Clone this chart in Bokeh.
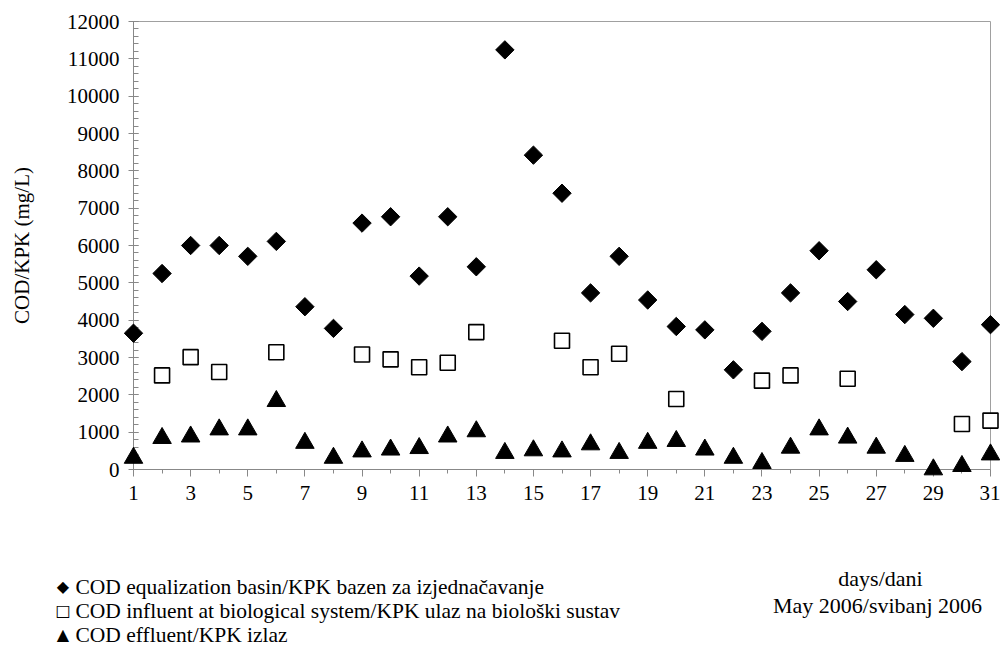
import numpy as np
from bokeh.plotting import figure
from bokeh.models import FixedTicker, Range1d
from bokeh.core.properties import value
from bokeh.embed import file_html
from bokeh.resources import INLINE

# ---- data ----
days = list(range(1, 32))
cod_equalization = [3650, 5250, 6000, 6000, 5710, 6110, 4360, 3780, 6600, 6770,
                    5180, 6770, 5430, 11240, 8420, 7400, 4730, 5710, 4540, 3830,
                    3740, 2670, 3700, 4730, 5860, 4500, 5350, 4150, 4050, 2890, 3880]
influent_days = [2, 3, 4, 6, 9, 10, 11, 12, 13, 16, 17, 18, 20, 23, 24, 26, 30, 31]
cod_influent = [2520, 3010, 2610, 3140, 3080, 2950, 2740, 2860, 3680, 3450,
                2740, 3100, 1890, 2380, 2520, 2430, 1220, 1310]
cod_effluent = [310, 840, 880, 1070, 1070, 1830, 710, 310, 480, 530,
                570, 880, 1020, 440, 510, 480, 670, 440, 710, 760,
                530, 310, 170, 580, 1070, 850, 580, 360, 0, 90, 400]

y_ticks = list(range(0, 12001, 1000))
y_minor = list(range(0, 12001, 200))
x_ticks = list(range(1, 32, 2))
x_minor = list(range(2, 31, 2))

legend_symbols = ["\u25c6", "\u25a1", "\u25b2"]
legend_labels = ["COD equalization basin/KPK bazen za izjedna\u010davanje",
                 "COD influent at biological system/KPK ulaz na biolo\u0161ki sustav",
                 "COD effluent/KPK izlaz"]
x_title = ["days/dani", "May 2006/svibanj 2006"]

FONT = "Liberation Serif"
W, H = 1000, 652
ML, MR, MT, MB = 133, 10, 21, 183
FW, FH = W - ML - MR, H - MT - MB

p = figure(width=W, height=H, x_range=Range1d(1, 31), y_range=Range1d(0, 12000),
           output_backend="svg", toolbar_location=None,
           min_border_left=ML, min_border_right=MR, min_border_top=MT, min_border_bottom=MB)
# pixel ranges for placing the annotation texts relative to the frame
p.extra_x_ranges["px"] = Range1d(0, FW)
p.extra_y_ranges["px"] = Range1d(0, FH)

p.xgrid.visible = False
p.ygrid.visible = False
p.outline_line_color = "#a0a0a0"
p.outline_line_width = 1

for ax in (p.xaxis[0], p.yaxis[0]):
    ax.axis_line_color = "#888888"
    ax.major_tick_line_color = "#888888"
    ax.minor_tick_line_color = "#888888"
    ax.major_label_text_font = FONT
    ax.major_label_text_font_size = "21px"
    ax.major_label_text_color = "black"
    ax.axis_label_text_font = FONT
    ax.axis_label_text_font_size = "21px"
    ax.axis_label_text_font_style = "normal"
    ax.axis_label_text_color = "black"

p.yaxis.ticker = FixedTicker(ticks=y_ticks, minor_ticks=y_minor)
p.yaxis.major_tick_in = 5
p.yaxis.major_tick_out = 5
p.yaxis.minor_tick_in = 5
p.yaxis.minor_tick_out = 0
p.yaxis.major_label_standoff = 9
p.yaxis.axis_label = "COD/KPK (mg/L)"
p.yaxis.axis_label_standoff = 30

p.xaxis.ticker = FixedTicker(ticks=x_ticks, minor_ticks=x_minor)
p.xaxis.major_tick_in = 0
p.xaxis.major_tick_out = 7
p.xaxis.minor_tick_in = 0
p.xaxis.minor_tick_out = 4
p.xaxis.major_label_standoff = 9

p.scatter(days, cod_equalization, marker="square", angle=np.pi / 4, size=13,
          fill_color="black", line_color="black", level="overlay")
p.scatter(influent_days, cod_influent, marker="square", size=15,
          fill_color="white", line_color="black", line_width=1.6, level="overlay")
p.scatter(days, cod_effluent, marker="triangle", size=18.5,
          fill_color="black", line_color="black", level="overlay")

# x-axis title at lower right (positions in pixels from the frame's bottom-left)
p.text(x=[747, 744], y=[-109, -136], text=x_title,
       x_range_name="px", y_range_name="px",
       text_font=value(FONT), text_font_size=value("22px"), text_color="black",
       text_align="center", text_baseline="middle", level="overlay")

# legend: key symbols and labels
leg_y = [-117, -141, -165]
p.text(x=[-70.5] * 3, y=leg_y, text=legend_symbols,
       x_range_name="px", y_range_name="px",
       text_font=value("DejaVu Sans"), text_font_size=value("16px"), text_color="black",
       text_align="center", text_baseline="middle", level="overlay")
p.text(x=[-58] * 3, y=leg_y, text=legend_labels,
       x_range_name="px", y_range_name="px",
       text_font=value(FONT), text_font_size=value("21.5px"), text_color="black",
       text_align="left", text_baseline="middle", level="overlay")

open("out.html", "w").write(file_html(p, INLINE))
